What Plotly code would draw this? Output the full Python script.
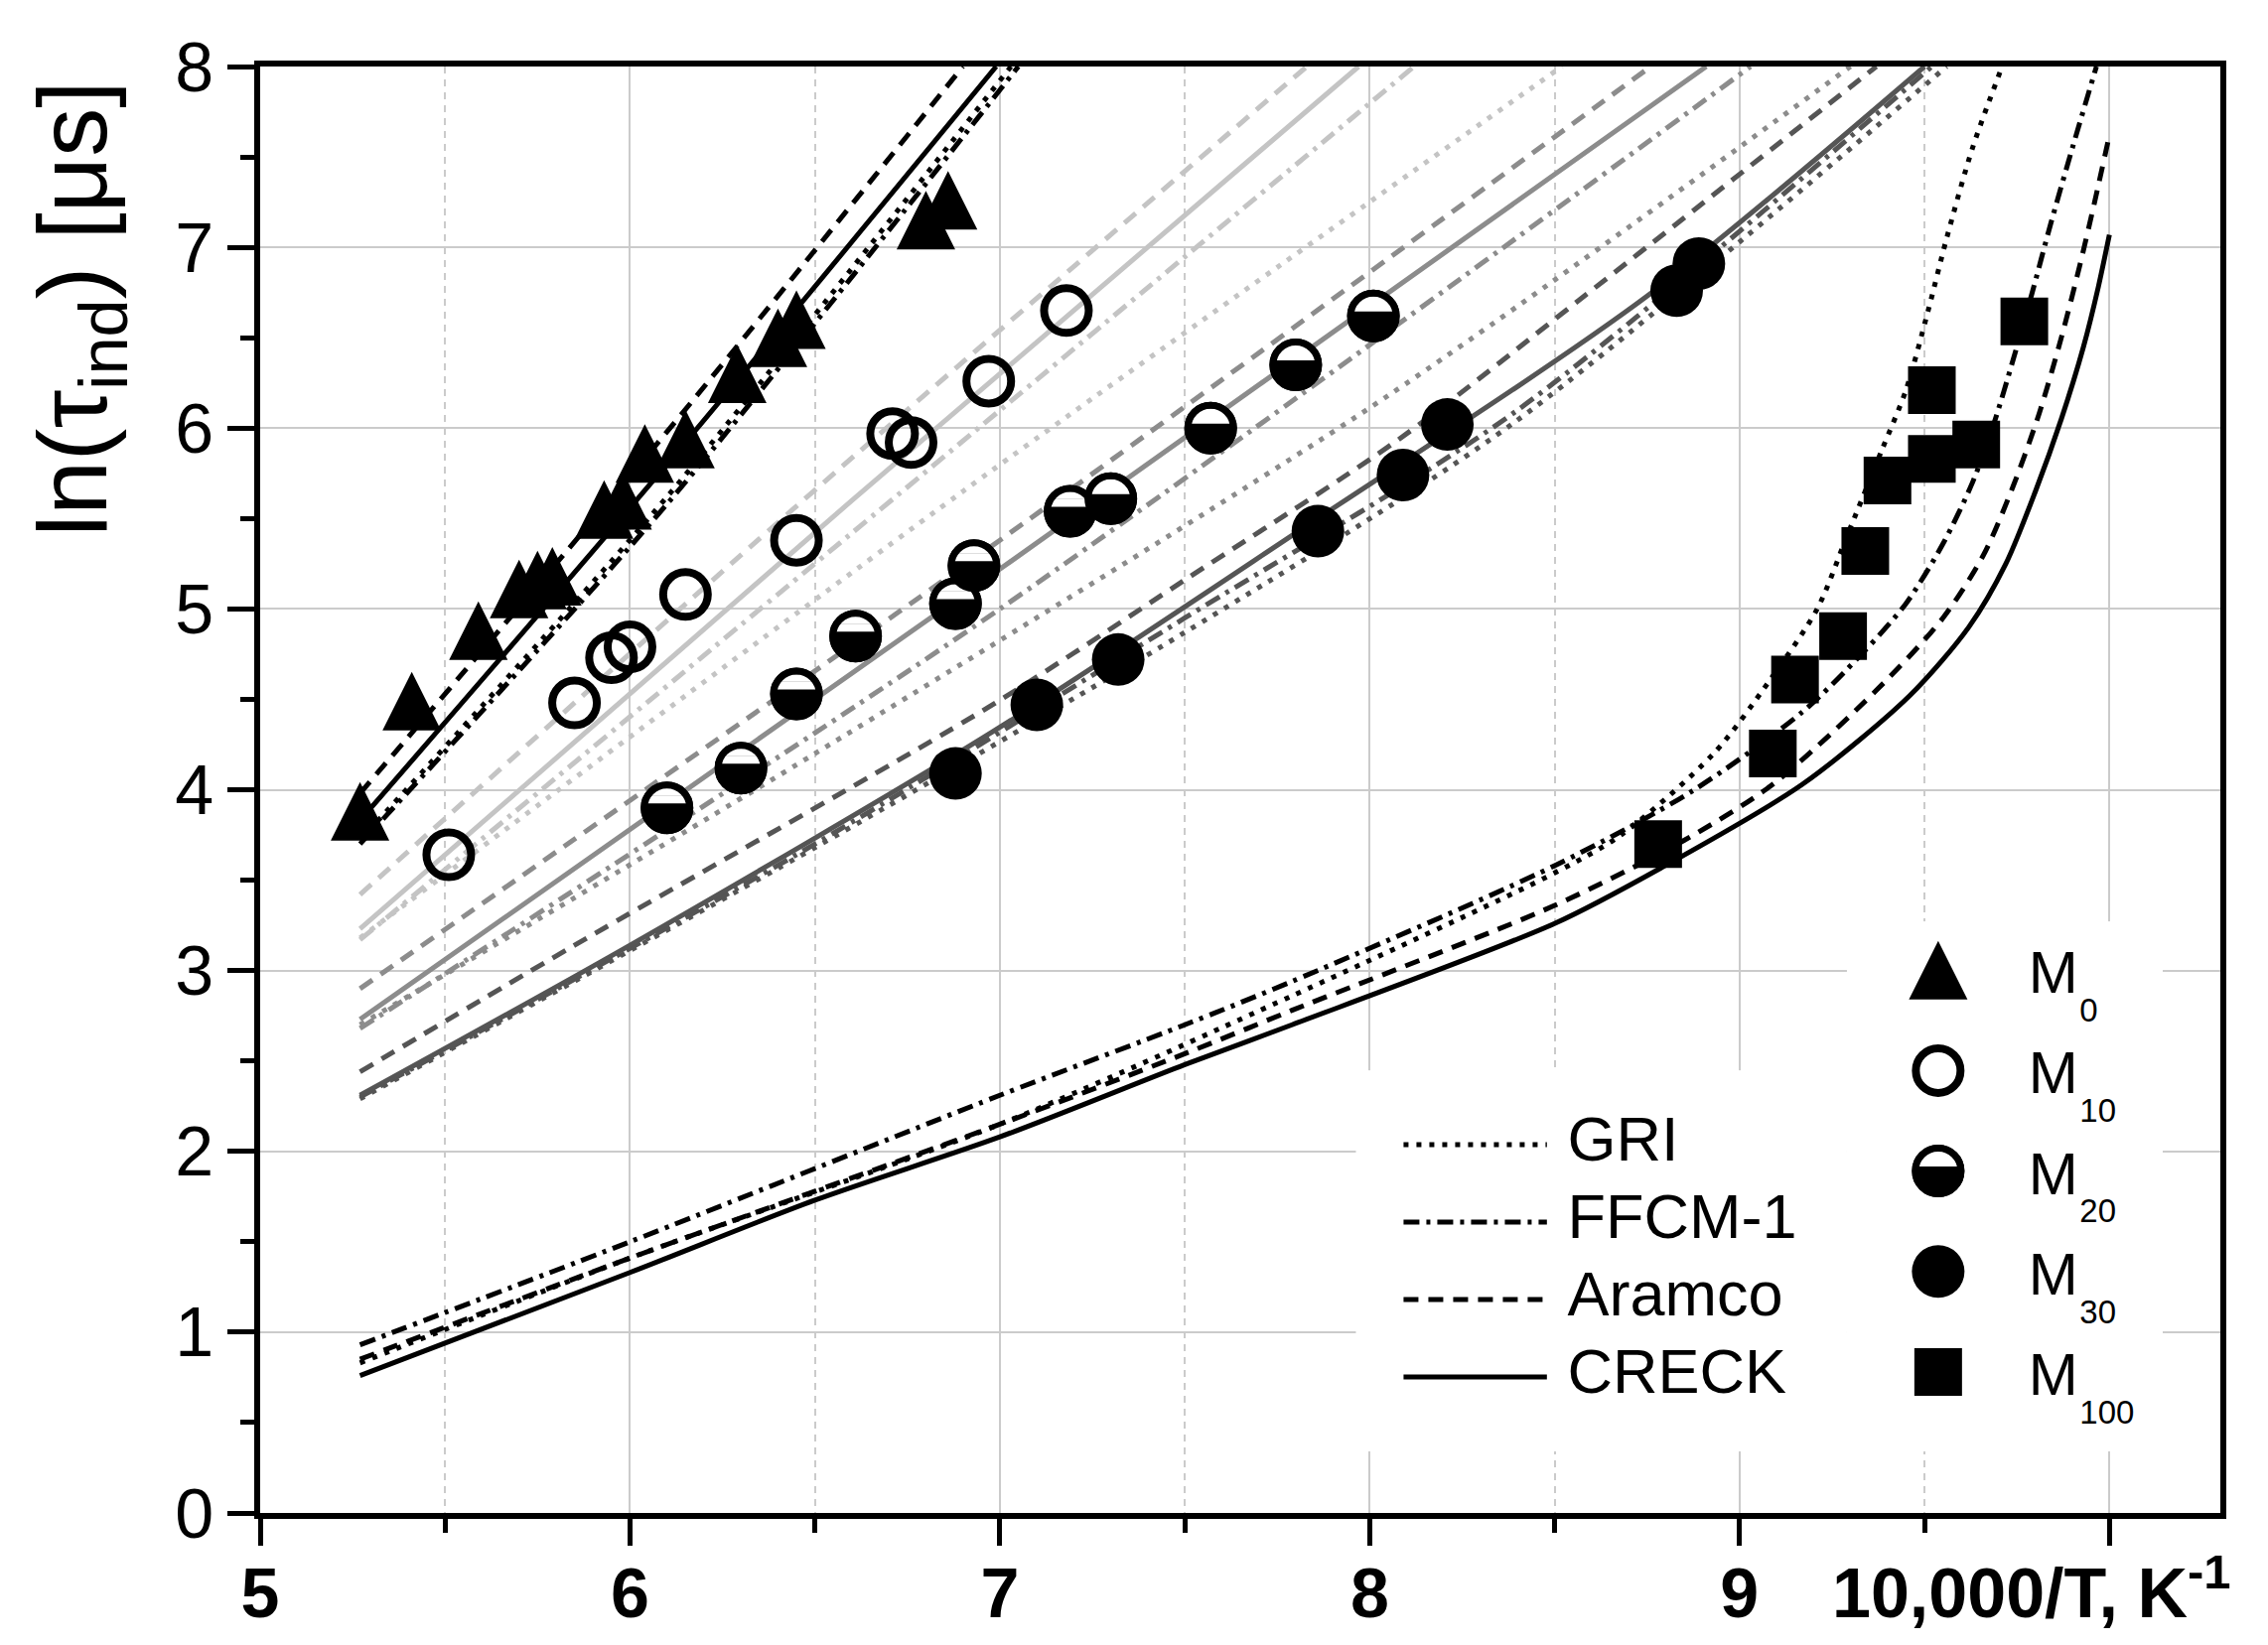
import plotly.graph_objects as go

# x: 10,000/T [1/K], y: ln(tau_ind) [us]

# experimental points
m0_x = [5.27, 5.41, 5.59, 5.70, 5.75, 5.79, 5.93, 5.98, 6.04, 6.15, 6.29, 6.40, 6.45, 6.80, 6.86]
m0_y = [3.88, 4.49, 4.88, 5.11, 5.16, 5.18, 5.55, 5.60, 5.86, 5.94, 6.30, 6.50, 6.60, 7.15, 7.26]
m10_x = [5.51, 5.85, 5.95, 6.00, 6.15, 6.45, 6.71, 6.76, 6.97, 7.18]
m10_y = [3.64, 4.48, 4.73, 4.79, 5.08, 5.38, 5.97, 5.92, 6.26, 6.65]
m20_x = [6.10, 6.30, 6.45, 6.61, 6.88, 6.93, 7.19, 7.30, 7.57, 7.80, 8.01]
m20_y = [3.90, 4.12, 4.53, 4.85, 5.03, 5.24, 5.54, 5.61, 6.00, 6.35, 6.62]
m30_x = [6.88, 7.10, 7.32, 7.86, 8.09, 8.21, 8.83, 8.89]
m30_y = [4.09, 4.47, 4.72, 5.43, 5.74, 6.02, 6.76, 6.91]
m100_x = [8.78, 9.09, 9.15, 9.28, 9.34, 9.40, 9.52, 9.64, 9.52, 9.77]
m100_y = [3.70, 4.20, 4.61, 4.85, 5.32, 5.71, 5.83, 5.91, 6.21, 6.59]

# model curves
m0_gri_x = [5.27, 6.10, 7.03]
m0_gri_y = [3.72, 5.62, 8.0]
m0_ffcm_x = [5.27, 6.10, 7.05]
m0_ffcm_y = [3.70, 5.58, 8.0]
m0_aramco_x = [5.27, 6.10, 6.90]
m0_aramco_y = [3.98, 5.98, 8.0]
m0_creck_x = [5.27, 6.10, 6.99]
m0_creck_y = [3.83, 5.80, 8.0]

m10_gri_x = [5.27, 6.90, 8.52]
m10_gri_y = [3.18, 5.65, 8.0]
m10_ffcm_x = [5.27, 6.60, 8.12]
m10_ffcm_y = [3.17, 5.42, 8.0]
m10_aramco_x = [5.27, 6.44, 7.83]
m10_aramco_y = [3.42, 5.55, 8.0]
m10_creck_x = [5.27, 6.60, 7.97]
m10_creck_y = [3.23, 5.60, 8.0]

m20_gri_x = [5.27, 6.50, 8.05, 9.30]
m20_gri_y = [2.70, 4.20, 6.18, 8.0]
m20_ffcm_x = [5.27, 7.00, 9.03]
m20_ffcm_y = [2.68, 5.00, 8.0]
m20_aramco_x = [5.27, 7.00, 8.76]
m20_aramco_y = [2.90, 5.38, 8.0]
m20_creck_x = [5.27, 7.00, 8.91]
m20_creck_y = [2.73, 5.22, 8.0]

m30_gri_x = [5.27, 6.50, 7.50, 8.39, 9.56]
m30_gri_y = [2.29, 3.68, 4.87, 6.03, 8.0]
m30_ffcm_x = [5.27, 6.50, 7.50, 8.40, 9.52]
m30_ffcm_y = [2.30, 3.70, 4.95, 6.10, 8.0]
m30_aramco_x = [5.27, 5.85, 6.98, 7.50, 8.08, 8.58, 9.37]
m30_aramco_y = [2.44, 3.14, 4.47, 5.16, 5.94, 6.73, 8.0]
m30_creck_x = [5.27, 6.00, 6.98, 7.80, 8.75, 9.50]
m30_creck_y = [2.31, 3.14, 4.32, 5.42, 6.73, 8.0]

m100_gri_x = [5.27, 6.0, 7.0, 7.79, 8.5, 8.68, 8.93, 9.08, 9.21, 9.29, 9.385, 9.45, 9.51, 9.56, 9.63, 9.71]
m100_gri_y = [0.83, 1.41, 2.15, 2.86, 3.54, 3.75, 4.20, 4.60, 5.00, 5.40, 5.88, 6.21, 6.65, 7.05, 7.55, 8.0]
m100_ffcm_x = [5.27, 6.0, 7.0, 7.5, 7.79, 8.5, 8.87, 9.17, 9.33, 9.45, 9.55, 9.63, 9.69, 9.74, 9.79, 9.84, 9.90, 9.965]
m100_ffcm_y = [0.93, 1.50, 2.31, 2.70, 2.94, 3.58, 3.99, 4.43, 4.75, 5.03, 5.36, 5.70, 6.04, 6.38, 6.74, 7.12, 7.55, 8.0]
m100_aramco_x = [5.27, 6.0, 7.0, 7.5, 7.79, 8.5, 8.85, 9.09, 9.37, 9.55, 9.66, 9.74, 9.81, 9.87, 9.92, 9.96, 10.0]
m100_aramco_y = [0.85, 1.41, 2.15, 2.54, 2.78, 3.36, 3.72, 4.03, 4.55, 4.95, 5.30, 5.68, 6.08, 6.50, 6.90, 7.25, 7.62]
m100_creck_x = [5.27, 6.0, 6.5, 7.0, 7.5, 7.79, 8.5, 8.79, 9.17, 9.46, 9.62, 9.72, 9.80, 9.87, 9.93, 9.97, 10.0]
m100_creck_y = [0.76, 1.33, 1.73, 2.08, 2.48, 2.70, 3.26, 3.57, 4.03, 4.52, 4.90, 5.25, 5.65, 6.05, 6.45, 6.78, 7.07]

models = ["GRI", "FFCM-1", "Aramco", "CRECK"]
model_dash = ["5px,8px", "16px,7px,4px,7px", "15px,10px", "solid"]

mixtures = ["M0", "M10", "M20", "M30", "M100"]
mixture_subs = ["0", "10", "20", "30", "100"]
mixture_colors = ["#000000", "#c4c4c4", "#8c8c8c", "#555555", "#000000"]

curves = [
    [(m0_gri_x, m0_gri_y), (m0_ffcm_x, m0_ffcm_y), (m0_aramco_x, m0_aramco_y), (m0_creck_x, m0_creck_y)],
    [(m10_gri_x, m10_gri_y), (m10_ffcm_x, m10_ffcm_y), (m10_aramco_x, m10_aramco_y), (m10_creck_x, m10_creck_y)],
    [(m20_gri_x, m20_gri_y), (m20_ffcm_x, m20_ffcm_y), (m20_aramco_x, m20_aramco_y), (m20_creck_x, m20_creck_y)],
    [(m30_gri_x, m30_gri_y), (m30_ffcm_x, m30_ffcm_y), (m30_aramco_x, m30_aramco_y), (m30_creck_x, m30_creck_y)],
    [(m100_gri_x, m100_gri_y), (m100_ffcm_x, m100_ffcm_y), (m100_aramco_x, m100_aramco_y), (m100_creck_x, m100_creck_y)],
]
points = [(m0_x, m0_y), (m10_x, m10_y), (m20_x, m20_y), (m30_x, m30_y), (m100_x, m100_y)]

FONT = "Liberation Sans, Arial, sans-serif"
LW = 5

fig = go.Figure()

# model predictions
for mix, color, group in zip(mixtures, mixture_colors, curves):
    for model, dash, (cx, cy) in zip(models, model_dash, group):
        fig.add_trace(go.Scatter(
            x=cx, y=cy, mode="lines", name=f"{model} {mix}",
            line=dict(color=color, width=LW, dash=dash, shape="spline", smoothing=0.8),
            showlegend=False, hoverinfo="skip"))


def add_markers(kind, x, y, xa="x", ya="y"):
    base = dict(x=x, y=y, xaxis=xa, yaxis=ya, mode="markers", showlegend=False, name=kind)
    if kind == "M0":
        # arrow symbol turned and pushed back so the triangle is centred on the point
        fig.add_trace(go.Scatter(**base, marker=dict(symbol="arrow-down", size=59, angle=180, standoff=29.5,
                                                     color="black", line=dict(width=0))))
    elif kind == "M10":
        fig.add_trace(go.Scatter(**base, marker=dict(symbol="circle-open", size=45, color="black",
                                                     line=dict(width=8, color="black"))))
    elif kind == "M20":
        # half-filled circle: black disk, white cap built from two shifted strips, black ring
        fig.add_trace(go.Scatter(**base, marker=dict(symbol="circle", size=46, color="black",
                                                     line=dict(width=7, color="black"))))
        fig.add_trace(go.Scatter(**base, hoverinfo="skip",
                                 marker=dict(symbol="line-ew", size=30, angle=180, standoff=8.5,
                                             color="white", line=dict(width=8, color="white"))))
        fig.add_trace(go.Scatter(**base, hoverinfo="skip",
                                 marker=dict(symbol="line-ew", size=23, angle=180, standoff=16,
                                             color="white", line=dict(width=7.5, color="white"))))
        fig.add_trace(go.Scatter(**base, hoverinfo="skip",
                                 marker=dict(symbol="circle-open", size=46, color="black",
                                             line=dict(width=7, color="black"))))
    elif kind == "M30":
        fig.add_trace(go.Scatter(**base, marker=dict(symbol="circle", size=53, color="black",
                                                     line=dict(width=0))))
    else:
        fig.add_trace(go.Scatter(**base, marker=dict(symbol="square", size=48, color="black",
                                                     line=dict(width=0))))


for mix, (px, py) in zip(mixtures, points):
    add_markers(mix, px, py)

# key for the models (inset axes x2/y2)
for i, (model, dash) in enumerate(zip(models, model_dash)):
    fig.add_trace(go.Scatter(x=[0.097, 0.389], y=[i, i], xaxis="x2", yaxis="y2", mode="lines",
                             line=dict(color="black", width=LW, dash=dash),
                             showlegend=False, hoverinfo="skip"))
fig.add_trace(go.Scatter(x=[0.431] * len(models), y=list(range(len(models))), xaxis="x2", yaxis="y2",
                         mode="text", text=models, textposition="middle right",
                         textfont=dict(family=FONT, size=63, color="black"),
                         showlegend=False, hoverinfo="skip"))

# key for the mixtures (inset axes x3/y3): marker, "M" and a dropped subscript
rows = list(range(len(mixtures)))
for i, mix in enumerate(mixtures):
    add_markers(mix, [0.289], [i], "x3", "y3")
fig.add_trace(go.Scatter(x=[0.575] * len(rows), y=[r + 0.08 for r in rows], xaxis="x3", yaxis="y3",
                         mode="text", text=["M"] * len(rows), textposition="middle right",
                         textfont=dict(family=FONT, size=60, color="black"),
                         showlegend=False, hoverinfo="skip"))
fig.add_trace(go.Scatter(x=[0.737] * len(rows), y=[r + 0.43 for r in rows], xaxis="x3", yaxis="y3",
                         mode="text", text=mixture_subs, textposition="middle right",
                         textfont=dict(family=FONT, size=33, color="black"),
                         showlegend=False, hoverinfo="skip"))

grid = "#cbcbcb"
axis_common = dict(
    showline=True, linewidth=5.5, linecolor="black", mirror=True,
    ticks="outside", ticklen=27, tickwidth=5, tickcolor="black",
    showgrid=True, gridcolor=grid, gridwidth=2, zeroline=False, automargin=False,
)

fig.update_layout(
    width=2284, height=1657,
    margin=dict(l=262, r=48, t=67, b=133),
    paper_bgcolor="white", plot_bgcolor="white",
    font=dict(family=FONT, color="black"),
    showlegend=False,
    xaxis=dict(
        **axis_common, range=[5, 10.3],
        tickvals=[5, 6, 7, 8, 9, 10],
        ticktext=["<b>5</b>", "<b>6</b>", "<b>7</b>", "<b>8</b>", "<b>9</b>", ""],
        tickfont=dict(family=FONT, size=70, color="black"),
        ticklabelstandoff=-12,
        minor=dict(tickvals=[5.5, 6.5, 7.5, 8.5, 9.5], ticks="outside", ticklen=14, tickwidth=5,
                   tickcolor="black", showgrid=True, gridcolor=grid, gridwidth=2, griddash="7px,6px"),
    ),
    yaxis=dict(
        **axis_common, range=[0, 8],
        tickvals=list(range(0, 9)),
        tickfont=dict(family=FONT, size=70, color="black"),
        minor=dict(tickvals=[v + 0.5 for v in range(8)], ticks="outside", ticklen=14, tickwidth=5,
                   tickcolor="black", showgrid=False),
    ),
    xaxis2=dict(domain=[0.559, 0.8095], range=[0, 1], visible=False, anchor="y2", fixedrange=True),
    yaxis2=dict(domain=[0.0426, 0.306], range=[3.96, -0.96], visible=False, anchor="x2", fixedrange=True),
    xaxis3=dict(domain=[0.8095, 0.9706], range=[0, 1], visible=False, anchor="y3", fixedrange=True),
    yaxis3=dict(domain=[0.0426, 0.409], range=[4.79, -0.485], visible=False, anchor="x3", fixedrange=True),
    annotations=[
        dict(text="ln(τ<sub>ind</sub>) [μs]", xref="paper", yref="paper", x=-0.092, y=0.8325,
             textangle=-90, showarrow=False, xanchor="center", yanchor="middle",
             font=dict(family=FONT, size=98, color="black")),
        dict(text="<b>10,000/T, K<sup>-1</sup></b>", xref="paper", yref="paper", x=0.801, y=-0.052,
             showarrow=False, xanchor="left", yanchor="middle",
             font=dict(family=FONT, size=70, color="black")),
    ],
)

fig.write_html("out.html", config={"displayModeBar": False},
               post_script="document.body.style.margin='0';document.body.style.overflow='hidden';")
